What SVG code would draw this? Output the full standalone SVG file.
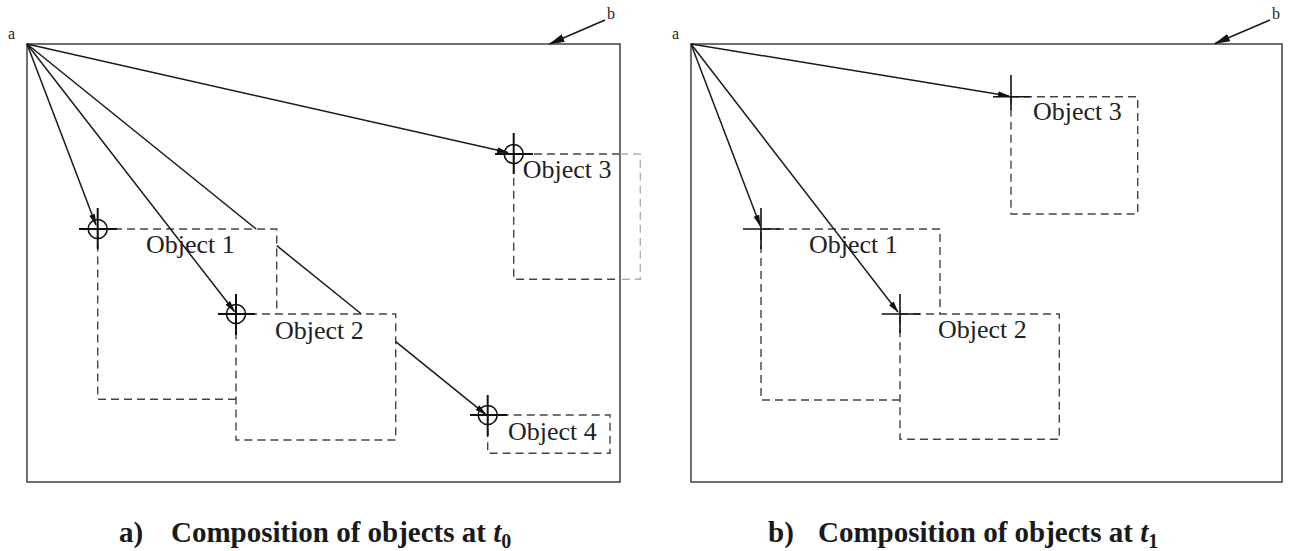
<svg xmlns="http://www.w3.org/2000/svg" width="1290" height="551" viewBox="0 0 1290 551">
<style>
.frame{fill:none;stroke:#333;stroke-width:1.4}
.box{fill:none;stroke:#444;stroke-width:1.4;stroke-dasharray:8 5}
.boxl{fill:none;stroke:#b0b0b0;stroke-width:1.4;stroke-dasharray:8 5}
.cross{stroke:#111;stroke-width:2;fill:none}
.crossr{stroke:#111;stroke-width:1.6;fill:none}
.circ{stroke:#111;stroke-width:1.6;fill:none}
.conn{stroke:#1a1a1a;stroke-width:1.5;fill:none}
.lbl{font-family:"Liberation Serif",serif;font-size:26px;fill:#222}
.small{font-family:"Liberation Serif",serif;font-size:16px;fill:#222}
.cap{font-family:"Liberation Serif",serif;font-size:29px;font-weight:bold;fill:#1a1a1a}
</style>
<defs>
<marker id="ah" markerUnits="userSpaceOnUse" markerWidth="12" markerHeight="8" refX="11" refY="4" orient="auto">
<path d="M0,1 L12,4 L0,7 z" fill="#111"/>
</marker>
<marker id="ahb" markerUnits="userSpaceOnUse" markerWidth="16" markerHeight="9" refX="15" refY="4.5" orient="auto">
<path d="M0,0.5 L16,4.5 L0,8.5 z" fill="#111"/>
</marker>
</defs>
<rect fill="#fff" x="0" y="0" width="1290" height="551"/>

<!-- Panel a -->
<g id="panel-a">
<rect class="frame" x="27" y="44" width="593" height="438"/>
<text class="small" x="8" y="39">a</text>
<text class="small" x="607" y="19">b</text>
</g>
<g id="a-object1">
<path class="box" d="M236,399.3 H97.7 V229 H276.7 V314"/>
<text class="lbl" x="146" y="253">Object 1</text>
<circle class="circ" cx="97.7" cy="229" r="9.5"/>
<path class="cross" d="M79,229 H117 M97.7,208 V249"/>
</g>
<g id="a-object2">
<rect class="box" x="236" y="314" width="159.7" height="126"/>
<text class="lbl" x="275" y="339">Object 2</text>
<circle class="circ" cx="236" cy="314" r="9.5"/>
<path class="cross" d="M218,314 H255 M236,294 V335"/>
</g>
<g id="a-object3">
<path class="box" d="M620,154 H513.7 V279.3 H620"/>
<path class="boxl" d="M620,154 H640.3 V279.3 H620"/>
<text class="lbl" x="522.7" y="178.3">Object 3</text>
<circle class="circ" cx="513.7" cy="154" r="9.5"/>
<path class="cross" d="M495,154 H533 M513.7,133 V174"/>
</g>
<g id="a-object4">
<rect class="box" x="487.7" y="415" width="122.3" height="38.3"/>
<text class="lbl" x="508" y="440">Object 4</text>
<circle class="circ" cx="487.7" cy="415" r="9.5"/>
<path class="cross" d="M470,415 H507 M487.7,395 V436"/>
</g>

<!-- Panel b -->
<g id="panel-b">
<rect class="frame" x="691" y="44" width="591" height="438"/>
<text class="small" x="672" y="39">a</text>
<text class="small" x="1272" y="19">b</text>
</g>
<g id="b-object1">
<path class="box" d="M900,400 H761 V229 H940 V314"/>
<text class="lbl" x="809" y="253">Object 1</text>
<path class="crossr" d="M743,229 H780 M761,208 V249"/>
</g>
<g id="b-object2">
<rect class="box" x="900" y="314" width="159.3" height="125.3"/>
<text class="lbl" x="938" y="338">Object 2</text>
<path class="crossr" d="M881.7,314 H920 M900,294 V333"/>
</g>
<g id="b-object3">
<rect class="box" x="1011" y="96.7" width="126.7" height="117.3"/>
<text class="lbl" x="1033" y="120">Object 3</text>
<path class="crossr" d="M993,96.7 H1030 M1011,75 V110"/>
</g>

<!-- Connectors -->
<g id="connectors">
<line class="conn" x1="27" y1="44" x2="96" y2="225" marker-end="url(#ah)"/>
<line class="conn" x1="27" y1="44" x2="234.5" y2="311.5" marker-end="url(#ah)"/>
<line class="conn" x1="27" y1="44" x2="508" y2="152.5" marker-end="url(#ah)"/>
<line class="conn" x1="27" y1="44" x2="256.1" y2="229"/>
<line class="conn" x1="276.7" y1="245.6" x2="361.4" y2="314"/>
<line class="conn" x1="395.7" y1="341.7" x2="486" y2="414.6" marker-end="url(#ah)"/>
<line class="conn" x1="605" y1="20" x2="549.5" y2="44" marker-end="url(#ahb)"/>

<line class="conn" x1="691" y1="44" x2="760.3" y2="226" marker-end="url(#ah)"/>
<line class="conn" x1="691" y1="44" x2="898" y2="312" marker-end="url(#ah)"/>
<line class="conn" x1="691" y1="44" x2="1009" y2="96" marker-end="url(#ah)"/>
<line class="conn" x1="1270" y1="20" x2="1215" y2="43.5" marker-end="url(#ahb)"/>
</g>

<!-- Captions -->
<text class="cap" x="119" y="542">a)<tspan x="171">Composition of objects at </tspan><tspan font-style="italic">t</tspan><tspan font-size="20" dy="6">0</tspan></text>
<text class="cap" x="768" y="542">b)<tspan x="818">Composition of objects at </tspan><tspan font-style="italic">t</tspan><tspan font-size="20" dy="6">1</tspan></text>
</svg>
